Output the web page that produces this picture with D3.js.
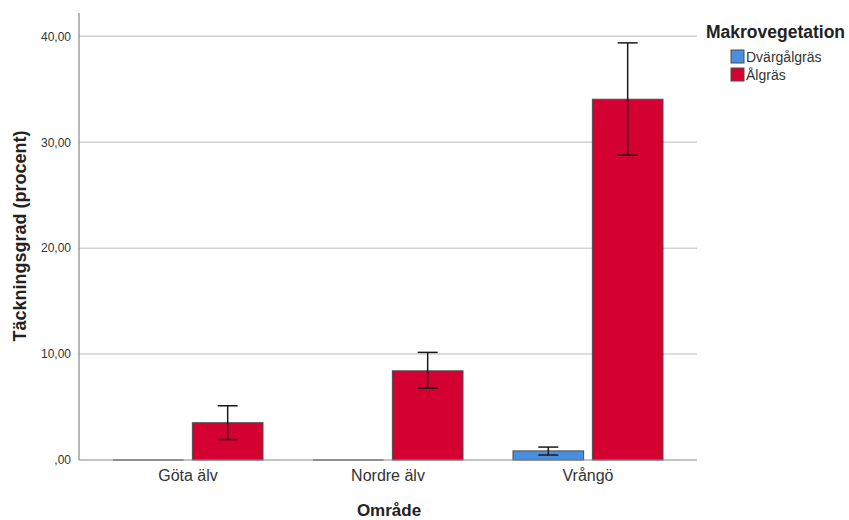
<!DOCTYPE html>
<html>
<head>
<meta charset="utf-8">
<script src="https://cdn.jsdelivr.net/npm/d3@7"></script>
<style>
  body { margin: 0; background: #fff; }
  svg { font-family: "Liberation Sans", Arial, sans-serif; }
</style>
</head>
<body>
<svg id="chart" width="849" height="520"></svg>
<script>
// Mean coverage per area and vegetation type, with error bar limits
const areas = ["Göta älv", "Nordre älv", "Vrångö"];
const vegTypes = ["Dvärgålgräs", "Ålgräs"];
const dwarfMean = [0, 0, 0.86];
const dwarfLow = [0, 0, 0.47];
const dwarfHigh = [0, 0, 1.22];
const eelMean = [3.52, 8.42, 34.06];
const eelLow = [1.93, 6.78, 28.78];
const eelHigh = [5.12, 10.16, 39.38];
const yTicks = [0, 10, 20, 30, 40];
const colors = ["#4a8fdf", "#d50032"];

const rows = [];
areas.forEach((a, i) => {
  rows.push({ area: a, type: vegTypes[0], mean: dwarfMean[i], lo: dwarfLow[i], hi: dwarfHigh[i] });
  rows.push({ area: a, type: vegTypes[1], mean: eelMean[i], lo: eelLow[i], hi: eelHigh[i] });
});

const svg = d3.select("#chart");
const plotLeft = 79, plotRight = 697, plotTop = 13, plotBottom = 460;

const y = d3.scaleLinear().domain([0, 42.2]).range([plotBottom, plotTop]);
const x0 = d3.scaleBand().domain(areas).range([88, 688]).paddingInner(0).paddingOuter(0);
const x1 = d3.scaleBand().domain(vegTypes).range([25, 175]).paddingInner(0.11);
const color = d3.scaleOrdinal().domain(vegTypes).range(colors);

// Gridlines
svg.append("g").selectAll("line").data(yTicks.filter(d => d > 0)).join("line")
  .attr("x1", plotLeft).attr("x2", plotRight)
  .attr("y1", d => y(d)).attr("y2", d => y(d))
  .attr("stroke", "#d2d2d2").attr("stroke-width", 1.5);

// Y axis
const yAxis = d3.axisLeft(y).tickValues(yTicks).tickSize(0).tickPadding(8)
  .tickFormat(d => d === 0 ? ",00" : d3.format(".2f")(d).replace(".", ","));
const gy = svg.append("g").attr("transform", `translate(${plotLeft},0)`).call(yAxis);
gy.select(".domain").remove();
gy.selectAll("text").attr("font-size", 12).attr("fill", "#333")
  .attr("font-family", "Liberation Sans, Arial, sans-serif");
svg.append("line").attr("x1", plotLeft).attr("x2", plotLeft).attr("y1", plotTop).attr("y2", plotBottom)
  .attr("stroke", "#888").attr("stroke-width", 1.2);

// Bars
const groups = svg.append("g").selectAll("g").data(rows).join("g")
  .attr("transform", d => `translate(${x0(d.area)},0)`);

groups.append("rect")
  .attr("x", d => x1(d.type))
  .attr("width", x1.bandwidth())
  .attr("y", d => y(d.mean))
  .attr("height", d => plotBottom - y(d.mean))
  .attr("fill", d => color(d.type))
  .attr("stroke", d => d.mean > 0 ? "#4d4d4d" : "none")
  .attr("stroke-width", 1);

// Zero-height bars show as a grey stub at the baseline
groups.filter(d => d.mean === 0).append("line")
  .attr("x1", d => x1(d.type)).attr("x2", d => x1(d.type) + x1.bandwidth())
  .attr("y1", plotBottom).attr("y2", plotBottom)
  .attr("stroke", "#999").attr("stroke-width", 2);

// X baseline
svg.append("line").attr("x1", plotLeft).attr("x2", plotRight).attr("y1", plotBottom).attr("y2", plotBottom)
  .attr("stroke", "#888").attr("stroke-width", 1.2);

// Error bars
const eb = groups.filter(d => d.mean > 0).append("g").attr("stroke", "#1a1a1a").attr("stroke-width", 1.5);
const cx = d => x1(d.type) + x1.bandwidth() / 2;
eb.append("line").attr("x1", cx).attr("x2", cx).attr("y1", d => y(d.lo)).attr("y2", d => y(d.hi));
eb.append("line").attr("x1", d => cx(d) - 10).attr("x2", d => cx(d) + 10).attr("y1", d => y(d.hi)).attr("y2", d => y(d.hi));
eb.append("line").attr("x1", d => cx(d) - 10).attr("x2", d => cx(d) + 10).attr("y1", d => y(d.lo)).attr("y2", d => y(d.lo));

// X axis labels
const xAxis = d3.axisBottom(x0).tickSize(0).tickPadding(10);
const gx = svg.append("g").attr("transform", `translate(0,${plotBottom})`).call(xAxis);
gx.select(".domain").remove();
gx.selectAll("text").attr("font-size", 16).attr("fill", "#333")
  .attr("font-family", "Liberation Sans, Arial, sans-serif");

// Axis titles
svg.append("text").attr("x", 389).attr("y", 516).attr("text-anchor", "middle")
  .attr("font-size", 17).attr("font-weight", "bold").attr("fill", "#222").text("Område");
svg.append("text").attr("transform", "translate(26,236) rotate(-90)").attr("text-anchor", "middle")
  .attr("font-size", 18).attr("font-weight", "bold").attr("fill", "#222").text("Täckningsgrad (procent)");

// Legend
const lg = svg.append("g");
lg.append("text").attr("x", 706).attr("y", 38).attr("font-size", 17.5).attr("font-weight", "bold")
  .attr("fill", "#222").text("Makrovegetation");
const items = lg.selectAll("g").data(vegTypes).join("g")
  .attr("transform", (d, i) => `translate(731,${50 + i * 18})`);
items.append("rect").attr("width", 13).attr("height", 13)
  .attr("fill", d => color(d)).attr("stroke", "#4d4d4d").attr("stroke-width", 1);
items.append("text").attr("x", 15).attr("y", 12).attr("font-size", 14).attr("fill", "#333").text(d => d);
</script>
</body>
</html>
